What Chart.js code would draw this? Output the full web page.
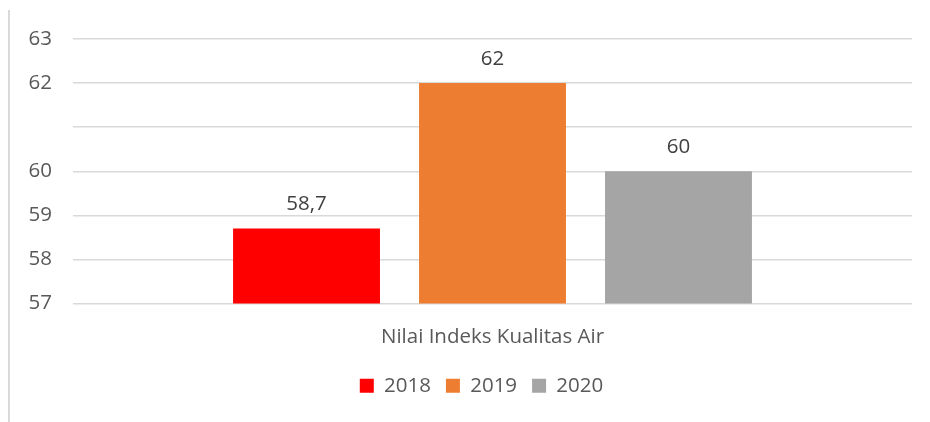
<!DOCTYPE html>
<html>
<head>
<meta charset="utf-8">
<script src="https://cdn.jsdelivr.net/npm/chart.js@4/dist/chart.umd.min.js"></script>
<style>
  body { margin: 0; background: #fff; }
  #wrap { position: relative; width: 930px; height: 422px; }
  #borde { position: absolute; left: 8px; top: 10px; width: 2px; height: 412px; background: #d9d9d9; }
</style>
</head>
<body>
<div id="wrap">
  <div id="borde"></div>
  <canvas id="grafico" width="930" height="422"></canvas>
</div>
<script>
const categorias = ["Nilai Indeks Kualitas Air"];
const anios = ["2018", "2019", "2020"];
const valores = [58.7, 62, 60];
const colores = ["#FF0000", "#ED7D31", "#A5A5A5"];
const ticksOcultos = [61];

const fuente = "'Open Sans', sans-serif";
const tam = 20.5;

// etiquetas encima de cada barra, con coma decimal
const etiquetasBarras = {
  id: "etiquetasBarras",
  afterDatasetsDraw(chart) {
    const ctx = chart.ctx;
    ctx.save();
    ctx.font = tam + "px " + fuente;
    ctx.fillStyle = "#404040";
    ctx.textAlign = "center";
    ctx.textBaseline = "middle";
    chart.data.datasets.forEach((ds, i) => {
      const barra = chart.getDatasetMeta(i).data[0];
      const texto = String(ds.data[0]).replace(".", ",");
      ctx.fillText(texto, barra.x, barra.y - 24);
    });
    ctx.restore();
  },
};

// la leyenda va centrada bajo el area de dibujo, no bajo todo el lienzo
const moverLeyenda = {
  id: "moverLeyenda",
  afterLayout(chart) {
    const ley = chart.legend;
    const dx = (chart.chartArea.left + chart.chartArea.right) / 2 - (ley.left + ley.right) / 2 - 11;
    ley.left += dx;
    ley.right += dx;
  },
};

const datasets = anios.map((anio, i) => ({
  label: anio,
  data: [valores[i]],
  backgroundColor: colores[i],
  categoryPercentage: 0.665,
  barPercentage: 0.79,
}));

const config = {
  type: "bar",
  data: { labels: categorias, datasets: datasets },
  options: {
    responsive: false,
    animation: false,
    layout: { padding: { left: 0, right: 18, top: 39, bottom: 16 } },
    scales: {
      y: {
        min: 57,
        max: 63,
        afterFit: (s) => { s.width = 73; },
        border: { display: false },
        grid: { color: "#d9d9d9", lineWidth: 1.5, drawTicks: false },
        ticks: {
          stepSize: 1,
          padding: 21,
          color: "#595959",
          font: { family: fuente, size: tam },
          callback: (v) => (ticksOcultos.includes(v) ? "" : v),
        },
      },
      x: {
        afterFit: (s) => { s.height = 57; },
        border: { display: false },
        grid: { display: false },
        ticks: {
          padding: 13,
          color: "#595959",
          font: { family: fuente, size: tam },
        },
      },
    },
    plugins: {
      tooltip: { enabled: false },
      legend: {
        position: "bottom",
        labels: {
          boxWidth: 14,
          boxHeight: 14,
          padding: 15,
          color: "#595959",
          font: { family: fuente, size: tam },
        },
      },
    },
  },
  plugins: [etiquetasBarras, moverLeyenda],
};

new Chart(document.getElementById("grafico"), config);
</script>
</body>
</html>
